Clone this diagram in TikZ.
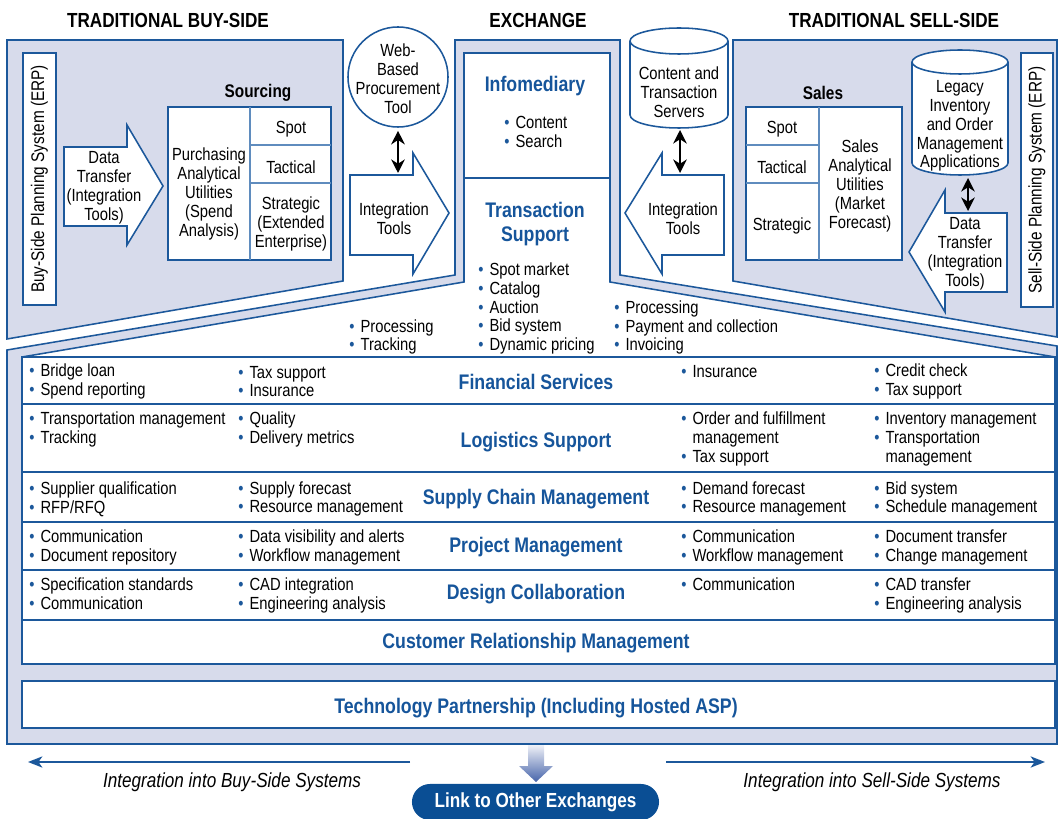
\documentclass[tikz,border=0pt]{standalone}
\usepackage{fontspec}
\setmainfont{Liberation Sans}[FakeStretch=0.84]
\usetikzlibrary{arrows.meta}
\usetikzlibrary{calc}

\definecolor{lav}{RGB}{215,219,235}
\definecolor{lineblue}{RGB}{28,88,155}
\definecolor{softblue}{RGB}{95,140,190}
\definecolor{headblue}{RGB}{22,85,155}
\definecolor{pillblue}{RGB}{10,78,148}
\definecolor{gradblue}{RGB}{70,100,170}

\newcommand{\txtfont}{\fontsize{12.5}{13.4}\selectfont}
\newcommand{\erpfont}{\fontsize{13}{15}\selectfont}
\newcommand{\subfont}{\fontsize{13}{15}\selectfont\bfseries}
\newcommand{\hdfont}{\fontsize{14.5}{17}\selectfont\bfseries}
\newcommand{\bluefont}{\fontsize{15}{17}\selectfont\bfseries}
\newcommand{\itfont}{\fontsize{14.5}{17}\selectfont\itshape}
\newcommand{\itm}{\makebox[8pt][l]{\textcolor{lineblue}{\textbullet}}}
\newcommand{\ind}{\hspace*{8pt}}

\tikzset{
	panel/.style={fill=lav, draw=lineblue, line width=1.1pt},
	cell/.style={fill=white, draw=lineblue, line width=1.1pt},
	txt/.style={font=\txtfont, align=center, inner sep=0pt, yshift=-1.4pt},
	lst/.style={font=\txtfont, align=left, inner sep=0pt, anchor=west, yshift=-1.4pt},
	bluehd/.style={font=\bluefont, text=headblue, align=center, inner sep=0pt, yshift=-1.4pt},
	sidehd/.style={font=\hdfont, inner sep=0pt},
	dbl/.style={{Stealth[length=3.4mm, width=3.4mm]}-{Stealth[length=3.4mm, width=3.4mm]}, line width=1.3pt},
	sidearrow/.style={-{Stealth[length=3.6mm, width=2.8mm, inset=1mm]}, draw=lineblue, line width=1.4pt},
}

\begin{document}
\begin{tikzpicture}[x=0.025cm, y=-0.025cm]
	\useasboundingbox (0,0) rectangle (1060,819);

	% column titles
	\node[sidehd] (tbuy) at (168,20) {TRADITIONAL BUY-SIDE};
	\node[sidehd] (texch) at (538,20) {EXCHANGE};
	\node[sidehd] (tsell) at (894,20) {TRADITIONAL SELL-SIDE};

	% buy-side and sell-side panels
	\filldraw[panel] (7,40) -- (343,40) -- (343,281) -- (7,339) -- cycle;
	\filldraw[panel] (733,40) -- (1057,40) -- (1057,337) -- (733,281) -- cycle;

	% boundary of the exchange
	\filldraw[panel] (7,744) -- (7,350) -- (455,275) -- (455,40) -- (620,40) -- (620,275) -- (1057,346) -- (1057,744) -- cycle;
	\filldraw[cell] (22,357) -- (464,282) -- (464,53) -- (610,53) -- (610,282) -- (1055,357) -- cycle;
	\draw[lineblue, line width=1.1pt] (464,178) -- (610,178);

	% service table
	\filldraw[cell] (22,357) rectangle (1055,620);
	\foreach \y in {404,472,522,570}
		\draw[lineblue, line width=1.1pt] (22,\y) -- (1055,\y);
	\filldraw[cell] (22,620) rectangle (1055,664);
	\filldraw[cell] (22,681) rectangle (1055,728);

	% buy side
	\node[cell, rotate=90, minimum width=6.3cm, minimum height=0.825cm, font=\erpfont, inner sep=0pt] (buyerp) at (39.5,179) {Buy-Side Planning System (ERP)};
	\filldraw[cell] (64,147) -- (127,147) -- (127,125) -- (163,186) -- (127,245) -- (127,226) -- (64,226) -- cycle;
	\node[txt] (buydt) at (104,186) {Data\\Transfer\\(Integration\\Tools)};

	\node[font=\subfont, yshift=-1.4pt] (srclbl) at (258,91) {Sourcing};
	\filldraw[cell] (168,107) rectangle (331,260);
	\draw[softblue, line width=0.9pt] (250,107) -- (250,260) (250,145) -- (331,145) (250,183) -- (331,183);
	\node[txt] (purch) at (209,192) {Purchasing\\Analytical\\Utilities\\(Spend\\Analysis)};
	\node[txt] (bspot) at (291,127) {Spot};
	\node[txt] (btact) at (291,165) {Tactical};
	\node[txt] (bstrat) at (291,222) {Strategic\\(Extended\\Enterprise)};

	\node[txt, cell, circle, minimum size=2.5cm, yshift=1.4pt] (webtool) at (398,77) {};
	\node[txt] (webtxt) at (webtool) {Web-\\Based\\Procurement\\Tool};
	\filldraw[cell] (350,175) -- (413,175) -- (413,153) -- (449,213) -- (413,274) -- (413,255) -- (350,255) -- cycle;
	\coordinate (intltop) at (398,175);
	\node[txt] (intl) at (394,217) {Integration\\Tools};
	\draw[dbl] ($(webtool.south)+(0,3)$) -- ($(intltop)+(0,-2)$);

	% exchange
	\node[bluehd] (info) at (535,84) {Infomediary};
	\node[lst] (infolist) at (504,130) {\itm Content\\\itm Search};
	\node[bluehd] (trans) at (535,222) {Transaction\\Support};
	\node[lst] (translist) at (478,306.5) {\itm Spot market\\\itm Catalog\\\itm Auction\\\itm Bid system\\\itm Dynamic pricing};
	\node[lst] (proclist) at (349,335) {\itm Processing\\\itm Tracking};
	\node[lst] (paylist) at (614,325.5) {\itm Processing\\\itm Payment and collection\\\itm Invoicing};

	% sell side
	\filldraw[cell] (630,41) -- (630,115) arc[start angle=180, end angle=0, x radius=49, y radius=13] -- (728,41) arc[start angle=0, end angle=-180, x radius=49, y radius=13] -- cycle;
	\draw[lineblue, line width=1.1pt] (630,41) arc[start angle=180, end angle=0, x radius=49, y radius=13];
	\node[txt] (servers) at (679,90) {Content and\\Transaction\\Servers};
	\coordinate (srvbot) at (680,128);
	\filldraw[cell] (724,175) -- (662,175) -- (662,153) -- (625,213) -- (662,274) -- (662,255) -- (724,255) -- cycle;
	\coordinate (intrtop) at (680,175);
	\node[txt] (intr) at (683,217) {Integration\\Tools};
	\draw[dbl] ($(srvbot)+(0,2)$) -- ($(intrtop)+(0,-2)$);

	\node[font=\subfont, yshift=-1.4pt] (saleslbl) at (823,91) {Sales};
	\filldraw[cell] (746,107) rectangle (902,260);
	\draw[softblue, line width=0.9pt] (819,107) -- (819,260) (746,145) -- (819,145) (746,183) -- (819,183);
	\node[txt] (sspot) at (782,127) {Spot};
	\node[txt] (stact) at (782,165) {Tactical};
	\node[txt] (sstrat) at (782,224) {Strategic};
	\node[txt] (salesutil) at (860,184) {Sales\\Analytical\\Utilities\\(Market\\Forecast)};

	\filldraw[cell] (912,62) -- (912,163) arc[start angle=180, end angle=0, x radius=48, y radius=12] -- (1008,62) arc[start angle=0, end angle=-180, x radius=48, y radius=12] -- cycle;
	\draw[lineblue, line width=1.1pt] (912,62) arc[start angle=180, end angle=0, x radius=48, y radius=12];
	\node[txt] (legacy) at (960,124) {Legacy\\Inventory\\and Order\\Management\\Applications};
	\coordinate (legbot) at (968,176);
	\filldraw[cell] (1007,213) -- (945,213) -- (945,190) -- (909,252) -- (945,312) -- (945,292) -- (1007,292) -- cycle;
	\coordinate (selldttop) at (968,213);
	\node[txt] (selldt) at (965,252) {Data\\Transfer\\(Integration\\Tools)};
	\draw[dbl] ($(legbot)+(0,2)$) -- ($(selldttop)+(0,-2)$);

	\node[cell, rotate=90, minimum width=6.35cm, minimum height=0.8cm, font=\erpfont, inner sep=0pt] (sellerp) at (1037,180) {Sell-Side Planning System (ERP)};

	% row titles
	\node[bluehd] (finhd) at (536,380) {Financial Services};
	\node[bluehd] (loghd) at (536,440) {Logistics Support};
	\node[bluehd] (scmhd) at (536,497) {Supply Chain Management};
	\node[bluehd] (prjhd) at (536,545) {Project Management};
	\node[bluehd] (dsghd) at (536,592) {Design Collaboration};
	\node[bluehd] (crmhd) at (536,641) {Customer Relationship Management};
	\node[bluehd] (techhd) at (536,706) {Technology Partnership (Including Hosted ASP)};

	% row entries
	\node[lst] (fin1) at (29,379.5) {\itm Bridge loan\\\itm Spend reporting};
	\node[lst] (fin2) at (238,379.5) {\itm Tax support\\\itm Insurance};
	\node[lst] (fin4) at (681,370) {\itm Insurance};
	\node[lst] (fin5) at (874,379.5) {\itm Credit check\\\itm Tax support};
	\node[lst] (log1) at (29,427.5) {\itm Transportation management\\\itm Tracking};
	\node[lst] (log2) at (238,427.5) {\itm Quality\\\itm Delivery metrics};
	\node[lst] (log4) at (681,437) {\itm Order and fulfillment\\\ind management\\\itm Tax support};
	\node[lst] (log5) at (874,437) {\itm Inventory management\\\itm Transportation\\\ind management};
	\node[lst] (scm1) at (29,497) {\itm Supplier qualification\\\itm RFP/RFQ};
	\node[lst] (scm2) at (238,497) {\itm Supply forecast\\\itm Resource management};
	\node[lst] (scm4) at (681,497) {\itm Demand forecast\\\itm Resource management};
	\node[lst] (scm5) at (874,497) {\itm Bid system\\\itm Schedule management};
	\node[lst] (prj1) at (29,545.5) {\itm Communication\\\itm Document repository};
	\node[lst] (prj2) at (238,545.5) {\itm Data visibility and alerts\\\itm Workflow management};
	\node[lst] (prj4) at (681,545.5) {\itm Communication\\\itm Workflow management};
	\node[lst] (prj5) at (874,545.5) {\itm Document transfer\\\itm Change management};
	\node[lst] (dsg1) at (29,591.5) {\itm Specification standards\\\itm Communication};
	\node[lst] (dsg2) at (238,593.5) {\itm CAD integration\\\itm Engineering analysis};
	\node[lst] (dsg4) at (681,582) {\itm Communication};
	\node[lst] (dsg5) at (874,593.5) {\itm CAD transfer\\\itm Engineering analysis};

	% integration arrows and link
	\coordinate (buystart) at (410,762);
	\coordinate (buyend) at (28,762);
	\draw[sidearrow] (buystart) -- (buyend);
	\coordinate (sellstart) at (666,762);
	\coordinate (sellend) at (1045,762);
	\draw[sidearrow] (sellstart) -- (sellend);
	\node[font=\itfont] (buyint) at (232,782) {Integration into Buy-Side Systems};
	\node[font=\itfont] (sellint) at (872,782) {Integration into Sell-Side Systems};

	\shade[top color=lav!40!white, bottom color=gradblue] (528,745) -- (544,745) -- (544,766) -- (553,766) -- (536,782) -- (519,766) -- (528,766) -- cycle;
	\node[fill=pillblue, text=white, font=\hdfont, minimum width=6.175cm, minimum height=0.9cm, rounded corners=0.45cm, inner sep=0pt] (link) at (535.5,802) {Link to Other Exchanges};

\end{tikzpicture}
\end{document}
